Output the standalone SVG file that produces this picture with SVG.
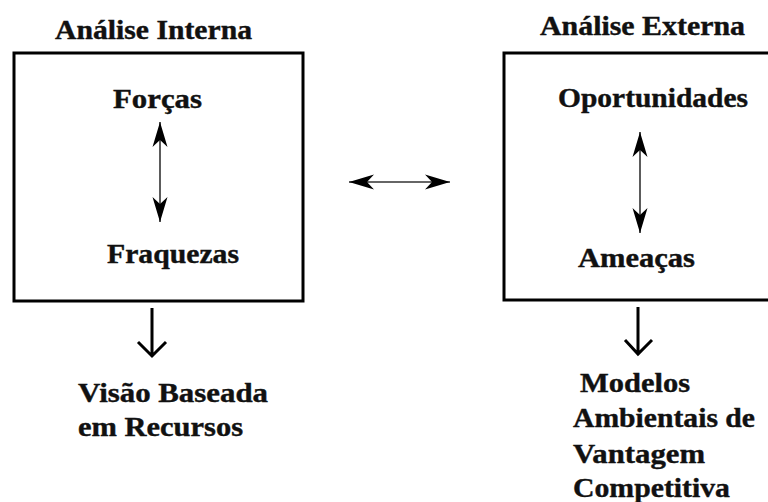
<svg xmlns="http://www.w3.org/2000/svg" width="768" height="502" viewBox="0 0 768 502">
<style>
  .t { font-family: "Liberation Serif", "Times New Roman", serif; font-weight: bold; font-size: 27px; fill: #111; stroke: #111; stroke-width: 0.4; }
  .box { fill: none; stroke: #000; stroke-width: 3; }
  .dbl { stroke: #333; stroke-width: 1.6; fill: none; }
  .down { stroke: #000; stroke-width: 3; fill: none; }
</style>
<defs>
  <marker id="dart" markerUnits="userSpaceOnUse" markerWidth="30" markerHeight="20" viewBox="-26 -10 30 20" refX="0" refY="0" orient="auto-start-reverse">
    <path d="M0,0 L-25,-7.5 L-18,0 L-25,7.5 Z" fill="#000"/>
  </marker>
</defs>
<rect width="768" height="502" fill="#fff"/>

<g id="internal">
  <text class="t" x="55" y="39" textLength="197" lengthAdjust="spacingAndGlyphs">Análise Interna</text>
  <rect class="box" x="14" y="53" width="289" height="248"/>
  <text class="t" x="113" y="108" textLength="89" lengthAdjust="spacingAndGlyphs">Forças</text>
  <text class="t" x="107" y="263" textLength="132" lengthAdjust="spacingAndGlyphs">Fraquezas</text>
</g>

<g id="external">
  <text class="t" x="540" y="35" textLength="205" lengthAdjust="spacingAndGlyphs">Análise Externa</text>
  <rect class="box" x="504" y="53" width="270" height="247"/>
  <text class="t" x="558" y="107" textLength="190" lengthAdjust="spacingAndGlyphs">Oportunidades</text>
  <text class="t" x="578" y="267" textLength="117" lengthAdjust="spacingAndGlyphs">Ameaças</text>
</g>

<g id="rbv">
  <text class="t" x="78" y="402" textLength="190" lengthAdjust="spacingAndGlyphs">Visão Baseada</text>
  <text class="t" x="78" y="436" textLength="165" lengthAdjust="spacingAndGlyphs">em Recursos</text>
</g>

<g id="models">
  <text class="t" x="580" y="392" textLength="110" lengthAdjust="spacingAndGlyphs">Modelos</text>
  <text class="t" x="573" y="427" textLength="182" lengthAdjust="spacingAndGlyphs">Ambientais de</text>
  <text class="t" x="573" y="463" textLength="132" lengthAdjust="spacingAndGlyphs">Vantagem</text>
  <text class="t" x="573" y="497" textLength="157" lengthAdjust="spacingAndGlyphs">Competitiva</text>
</g>

<g id="connectors">
  <line class="dbl" x1="160" y1="122" x2="160" y2="222" marker-start="url(#dart)" marker-end="url(#dart)"/>
  <line class="dbl" x1="640" y1="132" x2="640" y2="233" marker-start="url(#dart)" marker-end="url(#dart)"/>
  <line class="dbl" x1="349" y1="182" x2="450" y2="182" marker-start="url(#dart)" marker-end="url(#dart)"/>
  <path class="down" d="M152,308 L152,356 M138,342 L152,356 L166,342"/>
  <path class="down" d="M638,307 L638,354 M625,340 L638,354 L652,340"/>
</g>
</svg>
